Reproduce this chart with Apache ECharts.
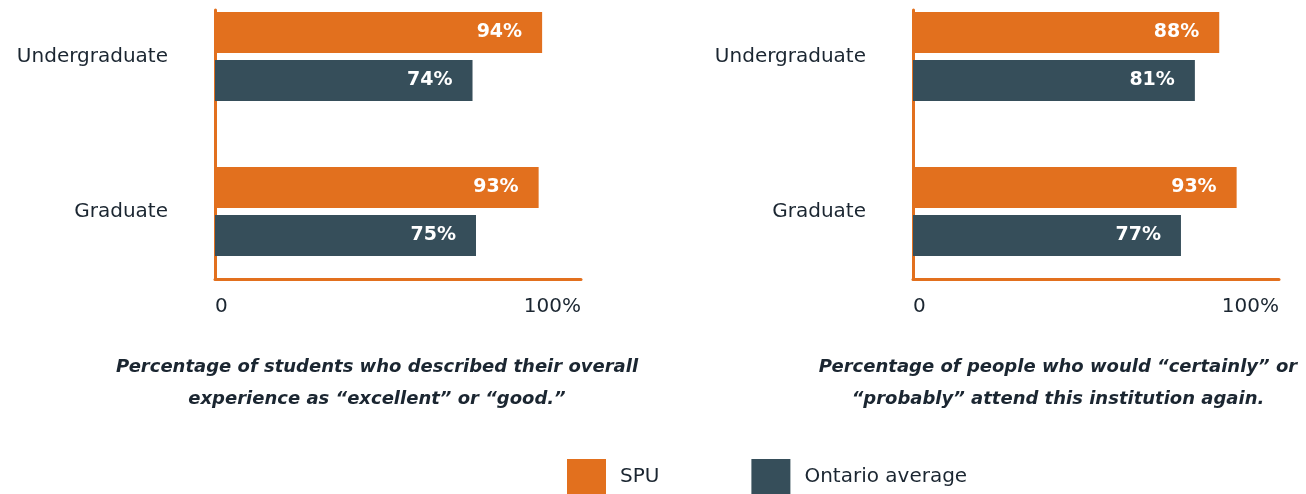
<!DOCTYPE html>
<html>
<head>
<meta charset="utf-8">
<script src="https://cdn.jsdelivr.net/npm/echarts@6/dist/echarts.min.js"></script>
<style>
  html, body { margin: 0; padding: 0; background: #fff; }
  #chart { width: 1306px; height: 494px; }
</style>
</head>
<body>
<div id="chart"></div>
<script>
var categories = ['Undergraduate', 'Graduate'];
var spuExperience = [94, 93];
var ontarioExperience = [74, 75];
var spuAttend = [88, 93];
var ontarioAttend = [81, 77];
var axisTicks = [0, 100];

var orange = '#E2701E';
var slate = '#364E5A';
var ink = '#1b2631';
var font = 'DejaVu Sans';

var chart = echarts.init(document.getElementById('chart'));

// two panels: bar grid + frame grid for each
var panels = [{ left: 215, caption: 'Percentage of students who described their overall\nexperience as \u201cexcellent\u201d or \u201cgood.\u201d', cx: 372 },
              { left: 913, caption: 'Percentage of people who would \u201ccertainly\u201d or\n\u201cprobably\u201d attend this institution again.', cx: 1053 }];

var grids = [], xAxes = [], yAxes = [], titles = [];
panels.forEach(function (p, i) {
  // bars grid
  grids.push({ left: p.left, width: 348, top: -21, height: 310, outerBoundsMode: 'none' });
  // frame grid (axis lines)
  grids.push({ left: p.left, width: 366, top: 10, height: 269, outerBoundsMode: 'none' });

  xAxes.push({ gridIndex: i * 2, type: 'value', min: 0, max: 100, show: false });
  yAxes.push({
    gridIndex: i * 2, type: 'category', inverse: true, data: categories,
    axisLine: { show: false }, axisTick: { show: false },
    axisLabel: { margin: 47, fontFamily: font, fontSize: 20, color: ink, padding: [7, 0, 0, 0] }
  });

  xAxes.push({
    gridIndex: i * 2 + 1, type: 'value', min: axisTicks[0], max: axisTicks[1], interval: 100,
    axisLine: { show: true, onZero: false, lineStyle: { color: orange, width: 3 } },
    axisTick: { show: false }, splitLine: { show: false },
    axisLabel: {
      margin: 18, fontFamily: font, fontSize: 20, color: ink,
      formatter: function (v) { return v === 0 ? '0' : v + '%'; },
      alignMinLabel: 'left', alignMaxLabel: 'right'
    }
  });
  yAxes.push({
    gridIndex: i * 2 + 1, type: 'value', min: 0, max: 1,
    axisLine: { show: true, onZero: false, lineStyle: { color: orange, width: 3 } },
    axisTick: { show: false }, axisLabel: { show: false }, splitLine: { show: false }
  });

  titles.push({
    text: p.caption, left: p.cx, top: 346, textAlign: 'center',
    textStyle: { fontFamily: font, fontSize: 18, fontStyle: 'italic', fontWeight: 'bold', color: ink, lineHeight: 32 }
  });
});

function barLabel() {
  return { show: true, position: 'insideRight', distance: 20, formatter: '{c}%',
           color: '#fff', fontFamily: font, fontWeight: 'bold', fontSize: 19 };
}

var option = {
  animation: false,
  title: titles,
  grid: grids,
  xAxis: xAxes,
  yAxis: yAxes,
  legend: {
    data: ['SPU', 'Ontario average'],
    top: 459, left: 567, padding: 0,
    icon: 'rect', itemWidth: 39, itemHeight: 35, itemGap: 92,
    textStyle: { fontFamily: font, fontSize: 20, color: ink, padding: [5, 0, 0, 9] }
  },
  series: [
    { name: 'SPU', type: 'bar', xAxisIndex: 0, yAxisIndex: 0, data: spuExperience,
      barWidth: 41, barGap: '17%', itemStyle: { color: orange }, label: barLabel() },
    { name: 'Ontario average', type: 'bar', xAxisIndex: 0, yAxisIndex: 0, data: ontarioExperience,
      barWidth: 41, barGap: '17%', itemStyle: { color: slate }, label: barLabel() },
    { name: 'SPU', type: 'bar', xAxisIndex: 2, yAxisIndex: 2, data: spuAttend,
      barWidth: 41, barGap: '17%', itemStyle: { color: orange }, label: barLabel() },
    { name: 'Ontario average', type: 'bar', xAxisIndex: 2, yAxisIndex: 2, data: ontarioAttend,
      barWidth: 41, barGap: '17%', itemStyle: { color: slate }, label: barLabel() }
  ]
};
chart.setOption(option);
</script>
</body>
</html>
